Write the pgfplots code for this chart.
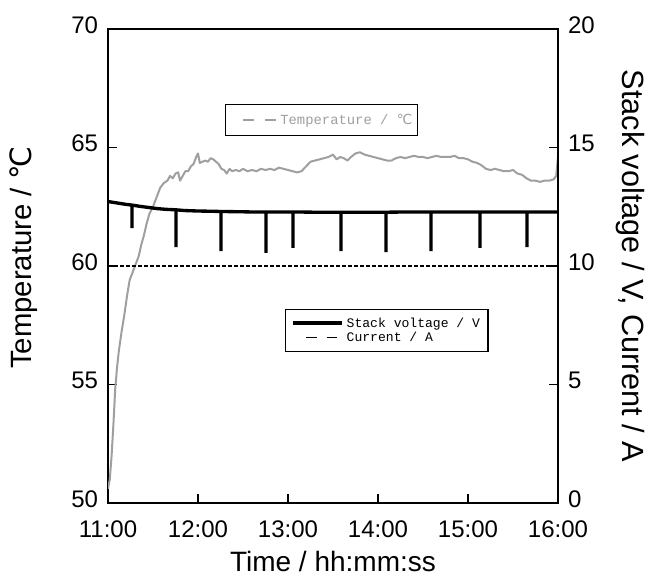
\documentclass[border=0pt]{standalone}
\usepackage{fontspec}
\setmainfont{Liberation Sans}
\newfontfamily\mono{Liberation Mono}
\newfontfamily\djv{DejaVu Sans}
\usepackage{pgfplots}
\pgfplotsset{compat=1.18}

\pgfplotsset{
  common/.style={
    width=337.5pt, height=355.5pt, scale only axis,
    xmin=11, xmax=16,
    tick align=inside, major tick length=7pt,
    every tick/.style={black, line width=1pt},
    axis line style={line width=1pt},
    tick label style={font=\fontsize{18}{18}\selectfont},
    /pgf/number format/assume math mode=true,
    legend cell align=left,
  }
}

\begin{document}
\begin{tikzpicture}
\begin{axis}[common,
  ymin=50, ymax=70, ytick={50,55,...,70}, ytick pos=left,
  xtick={11,12,...,16}, xticklabels={11:00,12:00,13:00,14:00,15:00,16:00},
  xtick pos=left,
  yticklabel style={xshift=-4pt, yshift=3pt},
  xticklabel style={yshift=-10pt},
  xlabel={Time / hh:mm:ss},
  ylabel={Temperature / {\djv ℃}},
  xlabel style={at={(axis description cs:0.5,-0.124)}, anchor=center,
    font=\fontsize{21}{21}\selectfont},
  ylabel style={at={(axis description cs:-0.188,0.517)}, anchor=center,
    font=\fontsize{22}{22}\selectfont},
  legend style={at={(0.26,0.8418)}, anchor=north west, draw=black,
    line width=0.8pt, font=\mono\fontsize{10.4}{11}\selectfont,
    text=gray!75, inner xsep=2pt, inner ysep=5pt},
]
\addplot[gray!75, line width=1.5pt, line join=round,
  legend image code/.code={\path[draw=none] (0pt,0pt) -- (11pt,0pt);
    \draw[gray!75, line width=1.2pt, dash pattern=on 8.5pt off 8pt] (11pt,0pt) -- (36.5pt,0pt);}]
  coordinates {
  (11.00,50.6) (11.02,51.0) (11.04,52.0) (11.06,53.3) (11.08,54.8) (11.10,55.7)
  (11.12,56.4) (11.15,57.2) (11.18,57.9) (11.21,58.7) (11.24,59.4) (11.28,59.8)
  (11.31,60.1) (11.34,60.4) (11.37,60.9) (11.40,61.3) (11.43,61.8) (11.46,62.2)
  (11.50,62.5) (11.54,62.9) (11.58,63.3) (11.62,63.5) (11.66,63.6) (11.69,63.8)
  (11.72,63.7) (11.75,63.9) (11.78,63.95) (11.80,63.6) (11.83,63.8) (11.86,64.0)
  (11.89,64.0) (11.92,64.2) (11.95,64.3) (11.98,64.6) (12.00,64.75) (12.02,64.35)
  (12.05,64.4) (12.08,64.45) (12.11,64.4) (12.14,64.55) (12.17,64.5) (12.20,64.4)
  (12.23,64.3) (12.26,64.1) (12.29,64.05) (12.32,63.9) (12.35,64.1) (12.38,64.0)
  (12.42,64.05) (12.46,64.0) (12.50,64.1) (12.55,64.0) (12.60,64.05) (12.65,64.0)
  (12.70,64.1) (12.75,64.05) (12.80,64.1) (12.85,64.05) (12.90,64.15) (12.95,64.1)
  (13.00,64.05) (13.05,64.0) (13.10,63.95) (13.15,64.0) (13.20,64.2) (13.25,64.4)
  (13.30,64.45) (13.35,64.5) (13.40,64.55) (13.45,64.6) (13.50,64.7) (13.54,64.5)
  (13.58,64.6) (13.62,64.55) (13.66,64.45) (13.70,64.6) (13.75,64.75) (13.80,64.8)
  (13.85,64.7) (13.90,64.65) (13.95,64.6) (14.00,64.55) (14.05,64.5) (14.10,64.45)
  (14.15,64.45) (14.20,64.55) (14.25,64.6) (14.30,64.55) (14.35,64.6) (14.40,64.65)
  (14.45,64.6) (14.50,64.6) (14.55,64.55) (14.60,64.6) (14.65,64.65) (14.70,64.6)
  (14.75,64.6) (14.80,64.6) (14.85,64.65) (14.90,64.55) (14.95,64.55) (15.00,64.5)
  (15.05,64.4) (15.10,64.35) (15.15,64.25) (15.20,64.1) (15.25,64.05) (15.30,64.1)
  (15.35,64.05) (15.40,64.0) (15.45,64.0) (15.50,64.05) (15.55,63.9) (15.60,63.85)
  (15.65,63.7) (15.70,63.6) (15.75,63.6) (15.80,63.55) (15.85,63.6) (15.90,63.6)
  (15.95,63.65) (15.98,63.8) (16.00,64.6)
  };
\addlegendentry{Temperature / {\djv ℃}}
\end{axis}

\begin{axis}[common,
  ymin=0, ymax=20, ytick={0,5,...,20},
  axis y line*=right, axis x line=none,
  yticklabel style={xshift=4pt, yshift=3pt},
  ylabel={Stack voltage / V, Current / A},
  ylabel style={at={(axis description cs:1.16,0.5)}, anchor=center, rotate=180,
    font=\fontsize{23}{23}\selectfont},
  legend style={at={(0.393,0.409)}, anchor=north west, draw=black,
    line width=0.8pt, font=\mono\fontsize{9.8}{9.8}\selectfont,
    inner xsep=4pt, inner ysep=4pt, row sep=-2pt},
]
\addplot[black, line width=2.5pt, line join=bevel,
  legend image code/.code={\draw[black, line width=3pt] (0pt,0pt) -- (37pt,0pt);}]
  coordinates {
  (11.00,12.72) (11.10,12.66) (11.20,12.60) (11.267,12.57) (11.267,11.60) (11.267,12.57)
  (11.35,12.52) (11.45,12.47) (11.55,12.42) (11.65,12.39) (11.756,12.37) (11.756,10.80)
  (11.756,12.37) (11.85,12.34) (12.00,12.32) (12.15,12.31) (12.256,12.30) (12.256,10.63)
  (12.256,12.30) (12.45,12.29) (12.60,12.28) (12.756,12.28) (12.756,10.55) (12.756,12.28)
  (12.90,12.28) (13.056,12.28) (13.056,10.76) (13.056,12.28) (13.30,12.27) (13.589,12.27)
  (13.589,10.63) (13.589,12.27) (13.85,12.27) (14.089,12.27) (14.089,10.59) (14.089,12.27)
  (14.35,12.28) (14.589,12.28) (14.589,10.63) (14.589,12.28) (14.85,12.28) (15.133,12.28)
  (15.133,10.76) (15.133,12.28) (15.40,12.28) (15.656,12.28) (15.656,10.80) (15.656,12.28)
  (15.85,12.28) (16.00,12.28)
  };
\addlegendentry{Stack voltage / V}
\addplot[black, line width=0.8pt, dash pattern=on 3pt off 1.5pt,
  legend image code/.code={\path[draw=none] (0pt,0pt) -- (37pt,0pt);
    \draw[black, line width=0.8pt, dash pattern=on 8pt off 7.5pt] (10pt,0pt) -- (34pt,0pt);}]
  coordinates {(11.00,10) (16.00,10)};
\addlegendentry{Current / A}
\end{axis}
\pgfresetboundingbox
\path (-81pt,-57pt) rectangle (408pt,377.25pt);
\end{tikzpicture}
\end{document}
